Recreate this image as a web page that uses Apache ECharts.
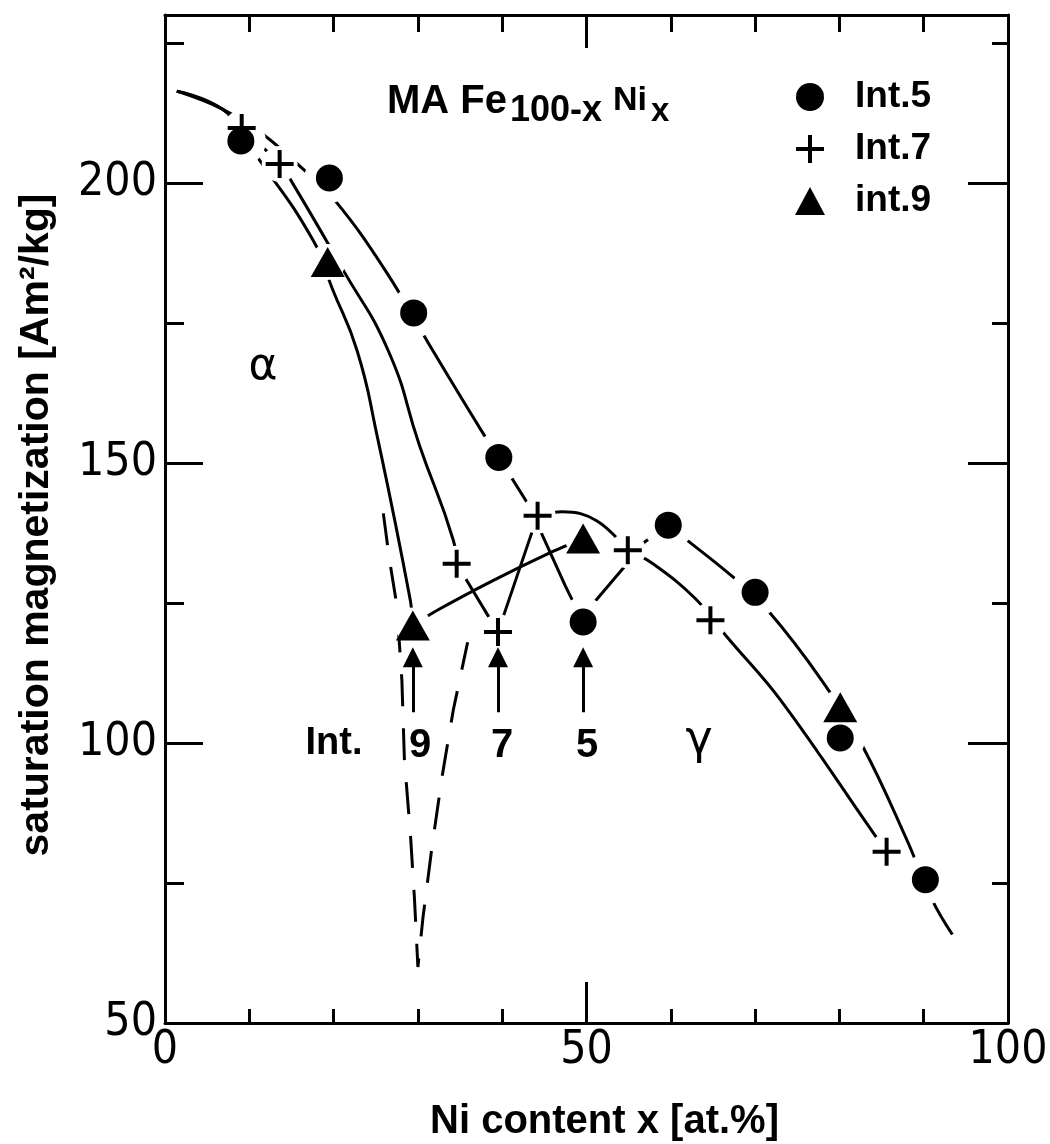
<!DOCTYPE html>
<html>
<head>
<meta charset="utf-8">
<title>Saturation magnetization of MA Fe100-xNix</title>
<script src="https://cdn.jsdelivr.net/npm/echarts@6/dist/echarts.min.js"></script>
<style>
  html, body { margin: 0; padding: 0; background: #ffffff; }
  #main { width: 1050px; height: 1144px; }
</style>
</head>
<body>
<div id="main"></div>
<script>
// measured points: [Ni content x (at.%), saturation magnetization (Am2/kg)]
const int5 = [ [ 9, 207.5 ], [ 19.5, 200.9 ], [ 29.5, 176.8 ], [ 39.6, 151 ], [ 49.6, 121.6 ], [ 59.7, 138.9 ], [ 70, 126.9 ], [ 80.1, 100.9 ], [ 90.2, 75.6 ] ];
const int7 = [ [ 9.1, 209.8 ], [ 13.6, 203.4 ], [ 34.6, 132 ], [ 39.5, 119.8 ], [ 44.2, 140.6 ], [ 54.9, 134.4 ], [ 64.7, 121.9 ], [ 85.6, 80.6 ] ];
const int9 = [ [ 19.3, 185.9 ], [ 29.4, 121 ], [ 49.6, 136.5 ], [ 80.1, 106.4 ] ];

// guide curves
const curve5Alpha = [ [ 1.4, 216.4 ], [ 6.8, 213.2 ], [ 11.6, 208.7 ], [ 15.7, 203.4 ], [ 20.2, 196.8 ], [ 26.3, 184 ], [ 31.8, 170 ], [ 37.4, 156.1 ], [ 39.6, 151 ] ];
const curve5Mid = [ [ 39.6, 151 ], [ 43.3, 142.1 ], [ 44.8, 137 ], [ 47.5, 128 ], [ 49.6, 121.6 ], [ 50.8, 124.9 ], [ 54.8, 132 ], [ 56.9, 135.9 ], [ 59.7, 138.9 ] ];
const curve5Gamma = [ [ 59.7, 138.9 ], [ 61.7, 136.5 ], [ 67.4, 129.6 ], [ 71.5, 123.7 ], [ 77.9, 111.2 ], [ 82.8, 99.3 ], [ 88, 82.7 ], [ 91, 72 ], [ 93.4, 65.8 ] ];
const curve7Alpha = [ [ 1.4, 216.4 ], [ 6.8, 213.2 ], [ 9.1, 209.8 ], [ 13.6, 203.4 ], [ 15.2, 199.8 ], [ 21, 184.8 ], [ 26.5, 170 ], [ 30.2, 153.1 ], [ 34.2, 136.2 ], [ 34.6, 132 ] ];
const curve7Mid = [ [ 34.6, 132 ], [ 39.5, 119.8 ], [ 44.2, 140.6 ] ];
const curve7Arc = [ [ 44.2, 140.6 ], [ 47.2, 141.3 ], [ 51.2, 139.7 ], [ 54.9, 134.4 ] ];
const curve7Gamma = [ [ 54.9, 134.4 ], [ 57.8, 132.1 ], [ 62.9, 125.8 ], [ 66.8, 118.7 ], [ 73, 107.7 ], [ 84, 84 ], [ 85.6, 80.6 ] ];
const curve9Alpha = [ [ 1.4, 216.4 ], [ 6.8, 213.2 ], [ 9, 208.5 ], [ 10.7, 205.2 ], [ 17.6, 189.7 ], [ 19.8, 181.3 ], [ 22.8, 170 ], [ 25.1, 155.3 ], [ 29.1, 125.5 ], [ 29.4, 121 ] ];
const curve9Gamma = [ [ 29.4, 121 ], [ 32.3, 123.7 ], [ 38.9, 129 ], [ 45.7, 134 ], [ 49.6, 136.5 ] ];
const dipCurve = [ [ 25.9, 141 ], [ 26.6, 133 ], [ 27.5, 124.6 ], [ 28.1, 111.2 ], [ 28.4, 97 ], [ 29.1, 84 ], [ 29.6, 72 ], [ 30, 60 ],
  [ 30.6, 68.8 ], [ 31.7, 81.8 ], [ 32.9, 94.3 ], [ 34.2, 105.9 ], [ 35.9, 118 ] ];

// arrows marking the end of the two phase region
const arrowX = [ 29.4, 39.5, 49.6 ];
const arrowY = [ 105.5, 115.3 ];

const legendNames = [ 'Int.5', 'Int.7', 'int.9' ];
const xRange = [ 0, 100 ];
const yRange = [ 50, 230 ];

( function ()
{
  const sans = "'Liberation Sans', Arial, sans-serif";
  const narrow = "'DejaVu Sans Condensed', 'Liberation Sans Narrow', sans-serif";
  const black = '#000';
  const plus = 'path://M12,0H16V12H28V16H16V28H12V16H0V12H12Z';

  function curve ( points, smooth, dashed )
  {
    return {
      type: 'line', data: points, smooth: smooth, symbol: 'none', silent: true, z: 2,
      lineStyle: { color: black, width: 3, type: dashed ? [ 32, 22 ] : 'solid' }
    };
  }

  function halo ( points, size )
  {
    return {
      name: 'halo', type: 'scatter', data: points, symbol: 'circle', symbolSize: size,
      itemStyle: { color: '#fff', opacity: 1 }, silent: true, z: 3
    };
  }

  function marks ( name, points, symbol, size )
  {
    return {
      name: name, type: 'scatter', data: points, symbol: symbol, symbolSize: size,
      itemStyle: { color: black, opacity: 1 }, z: 5
    };
  }

  function xPart ( position, interval, len, main )
  {
    return {
      type: 'value', position: position, min: xRange[ 0 ], max: xRange[ 1 ], interval: interval,
      axisLine: { show: main, onZero: false, lineStyle: { color: black, width: 3 } },
      axisTick: { inside: true, length: len, lineStyle: { color: black, width: 3 } },
      axisLabel: { show: main && position === 'bottom', margin: 5, color: black, fontSize: 46, fontFamily: narrow },
      splitLine: { show: false }
    };
  }

  function yPart ( position, interval, len, main )
  {
    return {
      type: 'value', position: position, min: yRange[ 0 ], max: yRange[ 1 ], interval: interval,
      axisLine: { show: main, onZero: false, lineStyle: { color: black, width: 3 } },
      axisTick: { inside: true, length: len, lineStyle: { color: black, width: 3 } },
      axisLabel: { show: main && position === 'left', showMaxLabel: false, margin: 8, color: black, fontSize: 46, fontFamily: narrow },
      splitLine: { show: false }
    };
  }

  let xAxis = [ xPart( 'bottom', 50, 41, true ), xPart( 'bottom', 10, 14, false ), xPart( 'top', 50, 33, true ), xPart( 'top', 10, 17, false ) ];
  xAxis[ 0 ].name = 'Ni content x [at.%]';
  xAxis[ 0 ].nameLocation = 'middle';
  xAxis[ 0 ].nameGap = 79;
  xAxis[ 0 ].nameTextStyle = { color: black, fontFamily: sans, fontWeight: 'bold', fontSize: 40, padding: [ 0, 0, 0, 36 ] };

  let yAxis = [ yPart( 'left', 50, 38, true ), yPart( 'left', 25, 19, false ), yPart( 'right', 50, 40, true ), yPart( 'right', 25, 16, false ) ];
  yAxis[ 0 ].name = 'saturation magnetization [Am²/kg]';
  yAxis[ 0 ].nameLocation = 'middle';
  yAxis[ 0 ].nameGap = 108;
  yAxis[ 0 ].nameTextStyle = { color: black, fontFamily: sans, fontWeight: 'bold', fontSize: 41, padding: [ 0, 12, 0, 0 ] };

  function label ( text, x, y, font, align )
  {
    return {
      type: 'text', x: x, y: y, z: 10, silent: true,
      style: { text: text, font: font, fill: black, align: align || 'center', verticalAlign: 'middle' }
    };
  }

  let myChart = echarts.init( document.getElementById( 'main' ), null, { renderer: 'canvas' } );
  let option = {
    animation: false,
    backgroundColor: '#fff',
    grid: { left: 165, right: 42, top: 15, bottom: 121, outerBoundsMode: 'none' },
    xAxis: xAxis,
    yAxis: yAxis,
    legend: {
      data: legendNames, orient: 'vertical', left: 795, top: 77, padding: 0,
      itemWidth: 30, itemHeight: 28, itemGap: 12, selectedMode: false,
      textStyle: { color: black, fontFamily: sans, fontWeight: 'bold', fontSize: 37, lineHeight: 40, padding: [ 0, 0, 0, 25 ] }
    },
    graphic: [
      label( 'MA Fe', 387, 101.5, "bold 40px 'Liberation Sans'", 'left' ),
      label( '100-x', 510, 111.5, "bold 36px 'Liberation Sans'", 'left' ),
      label( 'Ni', 613, 101, "bold 34px 'Liberation Sans'", 'left' ),
      label( 'x', 651, 112, "bold 33px 'Liberation Sans'", 'left' ),
      label( 'α', 263, 368, "44px 'DejaVu Sans'" ),
      label( 'γ', 699, 741, "46px 'DejaVu Sans'" ),
      label( 'Int.', 334, 744, "bold 38px 'Liberation Sans'" ),
      label( '9', 420, 746, "bold 40px 'Liberation Sans'" ),
      label( '7', 502, 746, "bold 40px 'Liberation Sans'" ),
      label( '5', 587, 746, "bold 40px 'Liberation Sans'" )
    ],
    series: [
      curve( curve5Alpha, 0.4, false ),
      curve( curve5Mid, false, false ),
      curve( curve5Gamma, 0.4, false ),
      curve( curve7Alpha, 0.5, false ),
      curve( curve7Mid, false, false ),
      curve( curve7Arc, 0.4, false ),
      curve( curve7Gamma, 0.4, false ),
      curve( curve9Alpha, 0.5, false ),
      curve( curve9Gamma, 0.3, false ),
      curve( dipCurve, false, true ),
      halo( int5, 50 ),
      halo( int7, 36 ),
      halo( int9, 36 ),
      {
        type: 'lines', coordinateSystem: 'cartesian2d', silent: true, z: 4,
        data: arrowX.map( x => ( { coords: [ [ x, arrowY[ 0 ] ], [ x, arrowY[ 1 ] ] ] } ) ),
        symbol: [ 'none', 'triangle' ], symbolSize: 20,
        lineStyle: { color: black, width: 3, opacity: 1, curveness: 0 }
      },
      marks( 'Int.5', int5, 'circle', 27 ),
      marks( 'Int.7', int7, plus, 28 ),
      marks( 'int.9', int9, 'triangle', [ 34, 30 ] )
    ]
  };
  myChart.setOption( option );
  window.addEventListener( 'resize', function ()
  {
    myChart.resize();
  } );
} )();
</script>
</body>
</html>
